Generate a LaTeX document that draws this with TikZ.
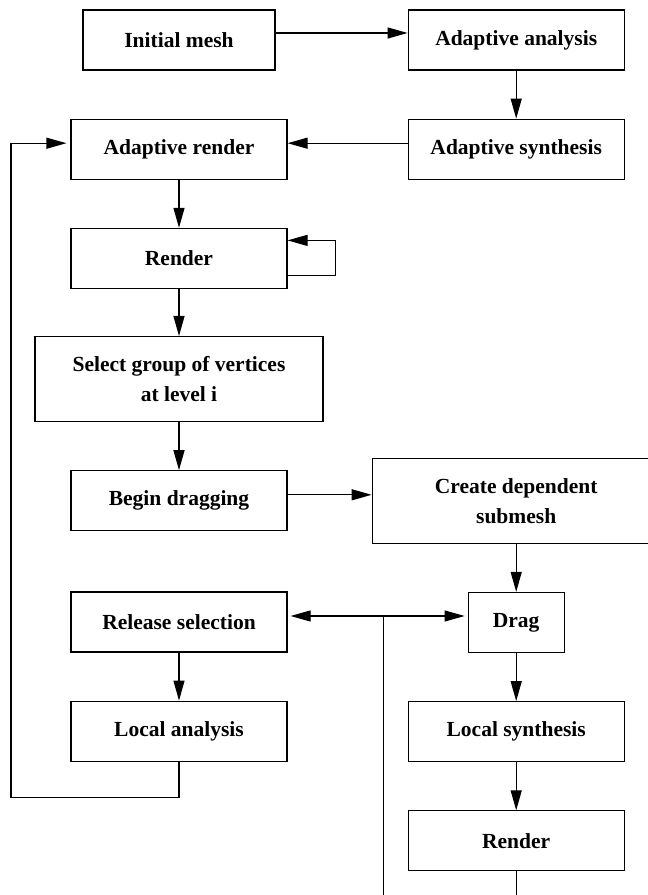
\documentclass[tikz,border=0pt]{standalone}
\usepackage{fontspec}
\setmainfont{Liberation Serif}
\usetikzlibrary{arrows.meta}
\usetikzlibrary{positioning}
\tikzstyle{block} = [draw, fill=white, rectangle, inner sep=0pt, align=center,
minimum height=60pt, minimum width=216pt]
\tikzstyle{wideblock} = [block, minimum height=85pt, minimum width=288pt]
\tikzstyle{point} = [coordinate]

\begin{document}
\begin{tikzpicture}[auto, x=1pt, y=1pt, line width=1.2pt,
  >={Triangle[length=20pt,width=11pt]},
  font=\fontsize{21.5}{30}\selectfont\bfseries]
	\useasboundingbox (0,0) rectangle (648,895);
	\clip (0,0) rectangle (648,895);

	\node [block, minimum width=192pt] (init) at (179,855) {Initial mesh};
	\node [block] (analysis) [right=132pt of init] {Adaptive analysis};
	\node [block] (synthesis) [below=48pt of analysis] {Adaptive synthesis};
	\node [block] (arender) [below=48pt of init] {Adaptive render};
	\node [block] (render) [below=48pt of arender] {Render};
	\node [wideblock] (select) [below=47pt of render] {Select group of vertices\\at level i};
	\node [block] (begin) [below=48pt of select] {Begin dragging};
	\node [wideblock] (create) [right=84pt of begin] {Create dependent\\submesh};
	\node [block, minimum width=96pt] (drag) [below=48pt of create] {Drag};
	\node [block] (release) [below=60pt of begin] {Release selection};
	\node [block] (lanalysis) [below=48pt of release] {Local analysis};
	\node [block] (lsynthesis) [below=48pt of drag] {Local synthesis};
	\node [block] (lrender) [below=48pt of lsynthesis] {Render};

	\node [point] (split) [right=96pt of release, yshift=6pt] {};
	\node [point] (lend) [below=40pt of lrender] {};
	\node [point] (send) at (split |- lend) {};
	\node [point] (lp1) [below=36pt of lanalysis] {};
	\node [point] (lp2) [left=168pt of lp1] {};

	\draw [->] ([yshift=7pt]init.east) -- ([yshift=7pt]init.east -| analysis.west);
	\draw [->] (analysis) -- (synthesis);
	\draw [->] ([yshift=6pt]synthesis.west) -- ([yshift=6pt]synthesis.west -| arender.east);
	\draw [->] (arender) -- (render);
	\draw [->] ([yshift=-17pt]render.east) -- ++(48,0) |- ([yshift=18pt]render.east);
	\draw [->] (render) -- (select);
	\draw [->] (select) -- (begin);
	\draw [->] ([yshift=6pt]begin.east) -- ([yshift=6pt]begin.east -| create.west);
	\draw [->] (create) -- (drag);
	\draw [->] (drag) -- (lsynthesis);
	\draw [->] (lsynthesis) -- (lrender);
	\draw [->] (release) -- (lanalysis);

	\draw [->, shorten >=3pt] (split) -- (split -| release.east);
	\draw [->, shorten >=3pt] (split) -- (split -| drag.west);
	\draw [-] (split) -- (send);
	\draw [-] (lrender) -- (lend);

	\draw [->, shorten >=4pt] (lanalysis) -- (lp1) -- (lp2) |- ([yshift=6pt]arender.west);
\end{tikzpicture}
\end{document}
